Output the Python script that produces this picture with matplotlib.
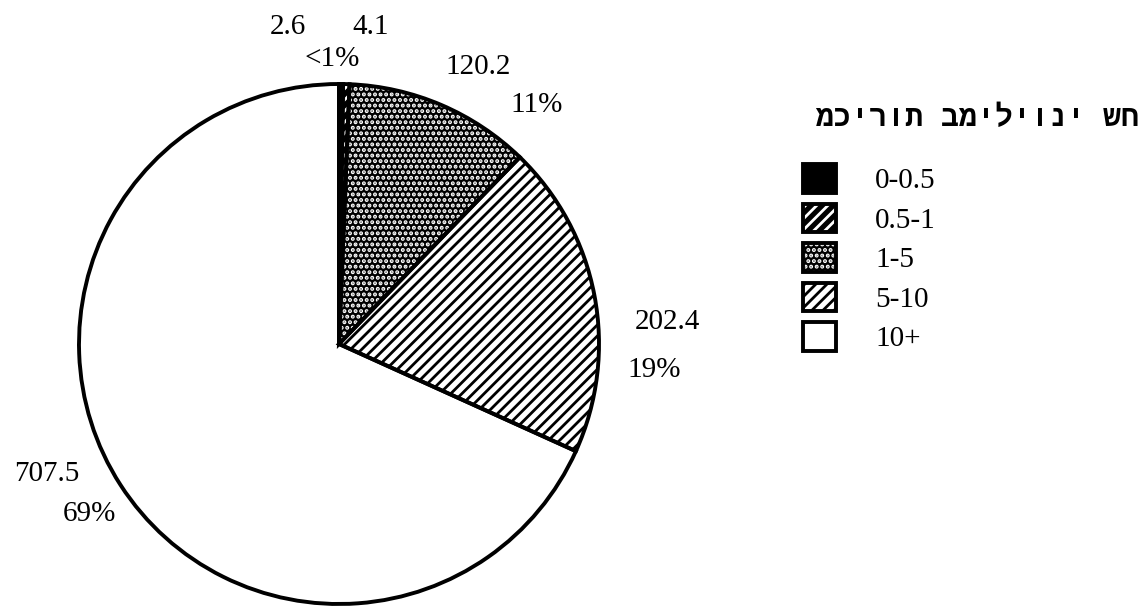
import matplotlib
matplotlib.use("Agg")
import matplotlib.pyplot as plt

# sales split by size class (millions)
ranges = ["0-0.5", "0.5-1", "1-5", "5-10", "10+"]
sales = [2.6, 4.1, 120.2, 202.4, 707.5]
value_labels = ["2.6", "4.1", "120.2", "202.4", "707.5"]
pct_labels = ["<1%", "11%", "19%", "69%"]
title = "מכירות במיליוני שח"

faces = ["black", "black", "black", "white", "white"]
hatches = ["", "///", "...", "///", ""]
hatch_cols = ["black", "white", "white", "black", "black"]

W, H = 1145, 608
plt.rcParams["hatch.linewidth"] = 2.0
serif = "Liberation Serif"

fig = plt.figure(figsize=(W / 100, H / 100), dpi=100)
ax = fig.add_axes([0, 0, 1, 1])

center = (339, H - 344)
r = 260

# fills (hatch colour comes from the edge colour)
fills, _ = ax.pie(sales, startangle=90, counterclock=False, center=center,
                  radius=r, colors=faces, wedgeprops=dict(linewidth=0))
for w, h, c in zip(fills, hatches, hatch_cols):
    w.set_edgecolor(c)
    w.set_linewidth(0)
    w.set_hatch(h)

# black outlines on top
outl, _ = ax.pie(sales, startangle=90, counterclock=False, center=center,
                 radius=r, colors=["none"] * 5,
                 wedgeprops=dict(edgecolor="black", linewidth=2.8, fill=False))

ax.set_xlim(0, W)
ax.set_ylim(0, H)
ax.set_aspect("equal")
ax.axis("off")

def lab(x, y, s):
    ax.text(x, H - y, s, ha="center", va="center", fontsize=21,
            family=serif, color="black")

lab(288, 27, value_labels[0])
lab(371, 27, value_labels[1])
lab(332, 59, pct_labels[0])
lab(478, 67, value_labels[2])
lab(537, 105, pct_labels[1])
lab(667, 322, value_labels[3])
lab(654, 370, pct_labels[2])
lab(47, 474, value_labels[4])
lab(89, 514, pct_labels[3])

# letters go left-to-right in typing order, as in the source
fig.text(815 / W, 1 - 118 / H, title, ha="left", va="center",
         fontsize=21.6, fontweight="bold",
         family=["Liberation Mono", "DejaVu Sans"])

handles = [(f, o) for f, o in zip(fills, outl)]
fig.legend(handles, ranges, loc="upper left",
           bbox_to_anchor=(803 / W, 1 - 164 / H), frameon=False,
           borderpad=0, borderaxespad=0, handlelength=1.13,
           handleheight=1.13, labelspacing=0.32, handletextpad=1.35,
           prop=dict(family=serif, size=21))

fig.savefig("out.png", dpi=100)
